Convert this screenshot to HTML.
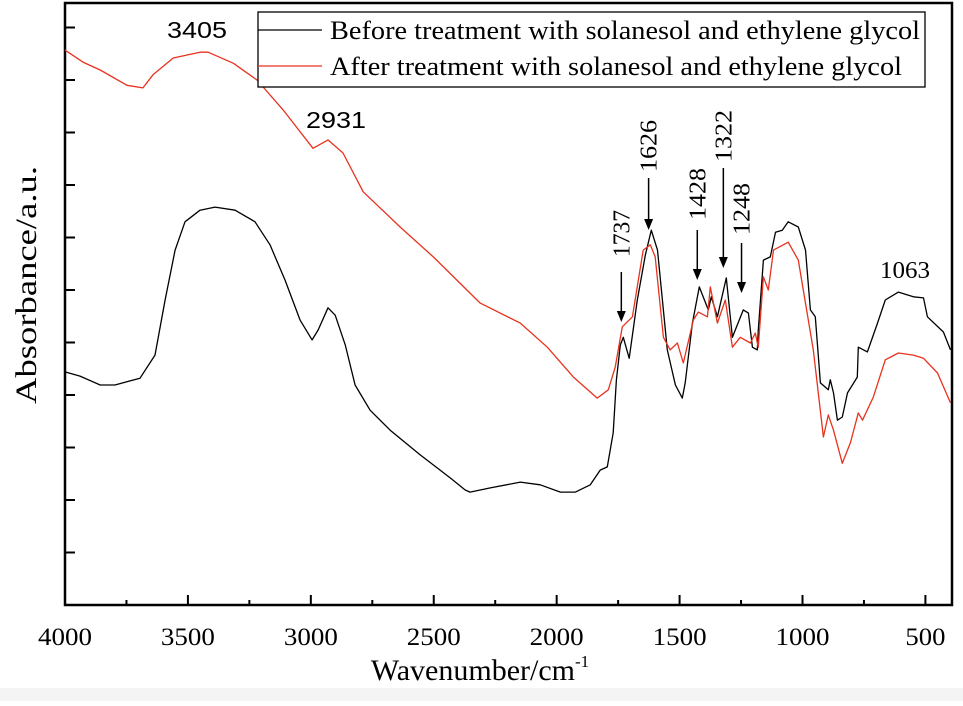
<!DOCTYPE html>
<html><head><meta charset="utf-8">
<style>
html,body{margin:0;padding:0;background:#fff;}
body{width:963px;height:701px;overflow:hidden;}
svg text{font-family:"Liberation Serif",serif;fill:#000;}
</style></head>
<body>
<svg id="chart" width="963" height="701" viewBox="0 0 963 701" xmlns="http://www.w3.org/2000/svg">
<rect x="0" y="688" width="963" height="13" fill="#f4f4f4"/>
<g id="axes"></g>
<g id="series"></g>
<g id="annot"></g>
</svg>
<script>
const xTicks = [4000,3500,3000,2500,2000,1500,1000,500];
const xMinor = [3750,3250,2750,2250,1750,1250,750];
const yTickVals = [1,2,3,4,5,6,7,8,9,10,11];
const beforeWn = [4000,3939,3857,3797,3695,3634,3593,3552,3512,3451,3390,3308,3227,3166,3105,3044,2995,2970,2930,2901,2860,2820,2759,2677,2555,2433,2372,2352,2270,2148,2067,1985,1924,1863,1823,1794,1770,1757,1741,1729,1705,1672,1639,1615,1590,1570,1550,1517,1489,1477,1448,1420,1383,1371,1346,1310,1285,1241,1220,1204,1184,1180,1159,1131,1110,1082,1058,1017,988,968,948,927,895,887,874,858,838,817,777,773,736,695,663,610,549,508,492,427,398];
const beforeAbs = [4.44,4.36,4.19,4.19,4.32,4.76,5.81,6.76,7.30,7.52,7.58,7.52,7.30,6.86,6.19,5.43,5.05,5.24,5.66,5.52,4.95,4.19,3.71,3.33,2.86,2.42,2.19,2.15,2.23,2.34,2.29,2.15,2.15,2.29,2.57,2.63,3.28,4.29,4.95,5.10,4.70,5.81,6.67,7.14,6.76,5.81,4.86,4.19,3.94,4.23,5.37,6.06,5.62,5.87,5.49,6.23,5.10,5.62,5.56,4.91,4.86,5.24,6.57,6.63,7.10,7.14,7.30,7.20,6.76,5.62,5.49,4.23,4.10,4.29,4.04,3.52,3.58,4.04,4.34,4.91,4.82,5.37,5.81,5.96,5.87,5.85,5.49,5.20,4.86];
const afterWn = [4000,3927,3857,3748,3683,3642,3560,3451,3418,3316,3219,3113,2991,2930,2869,2787,2637,2502,2311,2148,2038,1932,1835,1790,1762,1733,1692,1648,1619,1599,1566,1538,1509,1485,1444,1424,1387,1375,1346,1314,1285,1253,1212,1192,1180,1159,1139,1118,1058,1017,956,915,895,874,838,805,773,756,712,663,610,549,508,451,398];
const afterAbs = [10.57,10.34,10.19,9.90,9.85,10.10,10.42,10.53,10.53,10.32,10.00,9.43,8.70,8.86,8.61,7.87,7.20,6.63,5.75,5.37,4.91,4.34,3.94,4.10,4.53,5.30,5.49,6.76,6.86,6.63,5.10,4.86,4.99,4.61,5.43,5.58,5.49,6.06,5.37,5.81,4.91,5.10,4.99,5.18,4.91,6.25,6.00,6.76,6.91,6.57,4.86,3.20,3.62,3.33,2.70,3.09,3.66,3.52,3.96,4.67,4.80,4.76,4.70,4.42,3.85];
const peakLabels = ["1737","1626","1428","1322","1248"];
const peakWn = [1737,1626,1428,1322,1248];

const L=65,R=950,T=3,B=605;
const xs = w => L + (4000-w)*(R-L)/3600;
const ys = v => B - v*52.5;
const NS="http://www.w3.org/2000/svg";
function mk(tag,attrs,parent){const e=document.createElementNS(NS,tag);for(const k in attrs)e.setAttribute(k,attrs[k]);parent.appendChild(e);return e;}
const axes=document.getElementById('axes'), series=document.getElementById('series'), annot=document.getElementById('annot');

const frame=mk('rect',{x:L,y:T,width:952-L,height:B-T,fill:'none',stroke:'#000','stroke-width':2.5},axes);


xTicks.forEach(t=>{
  const x=xs(t);
  const l=mk('line',{x1:x,y1:B,x2:x,y2:B-10,stroke:'#000','stroke-width':2},axes);
  
  
  const tx=mk('text',{x:x,y:645,'text-anchor':'middle','font-size':25,textLength:54,lengthAdjust:'spacingAndGlyphs'},axes);
  tx.textContent=t;
  if(t===500){tx.setAttribute('textLength',40);}
  
  
});
xMinor.forEach(t=>{
  const x=xs(t);
  const l=mk('line',{x1:x,y1:B,x2:x,y2:B-5,stroke:'#000','stroke-width':2},axes);
  
  
});
yTickVals.forEach(v=>{
  const y=ys(v);
  const l=mk('line',{x1:L,y1:y,x2:L+10,y2:y,stroke:'#000','stroke-width':2},axes);
  
  
});
const xt=mk('text',{x:480,y:680,'text-anchor':'middle','font-size':30},axes);
xt.innerHTML='Wavenumber/cm<tspan dy="-13" font-size="17">-1</tspan>';


const yt=mk('text',{x:0,y:0,'text-anchor':'middle','font-size':30,textLength:238,lengthAdjust:'spacingAndGlyphs',transform:'translate(36,285) rotate(-90)'},axes);
yt.textContent='Absorbance/a.u.';



function path(wn,ab,color,name){
  const d=wn.map((w,i)=>(i?'L':'M')+xs(w).toFixed(1)+','+ys(ab[i]).toFixed(1)).join(' ');
  const p=mk('path',{d:d,fill:'none',stroke:color,'stroke-width':1.3,'stroke-linejoin':'round'},series);
  
  
}
path(beforeWn,beforeAbs,'#000','before-treatment-line');
path(afterWn,afterAbs,'#e8321e','after-treatment-line');

// legend
const lg=mk('g',{},annot);


mk('rect',{x:258,y:12,width:667,height:75,fill:'#fff',stroke:'#000','stroke-width':1.3},lg);
mk('line',{x1:258,y1:30,x2:322,y2:30,stroke:'#000','stroke-width':1.3},lg);
mk('line',{x1:258,y1:66,x2:322,y2:66,stroke:'#e8321e','stroke-width':1.3},lg);
const l1=mk('text',{x:330,y:39,'font-size':26,textLength:590,lengthAdjust:'spacingAndGlyphs'},lg);
l1.textContent='Before treatment with solanesol and ethylene glycol';


const l2=mk('text',{x:330,y:75,'font-size':26,textLength:572,lengthAdjust:'spacingAndGlyphs'},lg);
l2.textContent='After treatment with solanesol and ethylene glycol';



// sans annotations
[['3405',197,38],['2931',336,128]].forEach(a=>{
  const t=mk('text',{x:a[1],y:a[2],'text-anchor':'middle','font-size':23,textLength:60,lengthAdjust:'spacingAndGlyphs',style:'font-family:"Liberation Sans",sans-serif'},annot);
  t.textContent=a[0];
  
  
});
const t1063=mk('text',{x:905,y:278,'text-anchor':'middle','font-size':24,textLength:50,lengthAdjust:'spacingAndGlyphs'},annot);
t1063.textContent='1063';



// rotated peak labels with arrows: [labelTopY, labelBottomY, arrowStartY, arrowEndY]
const peakGeom=[[210,257,272,322],[120,172,178,230],[168,220,230,280],[110,162,168,268],[183,235,243,293]];
peakWn.forEach((w,i)=>{
  const x=xs(w);
  const g=peakGeom[i];
  const t=mk('text',{x:0,y:0,'text-anchor':'middle','font-size':24,textLength:g[1]-g[0],lengthAdjust:'spacingAndGlyphs',transform:`translate(${x+8},${(g[0]+g[1])/2}) rotate(-90)`},annot);
  t.textContent=peakLabels[i];
  
  
  const ln=mk('line',{x1:x,y1:g[2],x2:x,y2:g[3]-8,stroke:'#000','stroke-width':1.5},annot);
  
  
  mk('polygon',{points:`${x-4.5},${g[3]-11} ${x+4.5},${g[3]-11} ${x},${g[3]}`,fill:'#000'},annot);
});
</script>
</body></html>
